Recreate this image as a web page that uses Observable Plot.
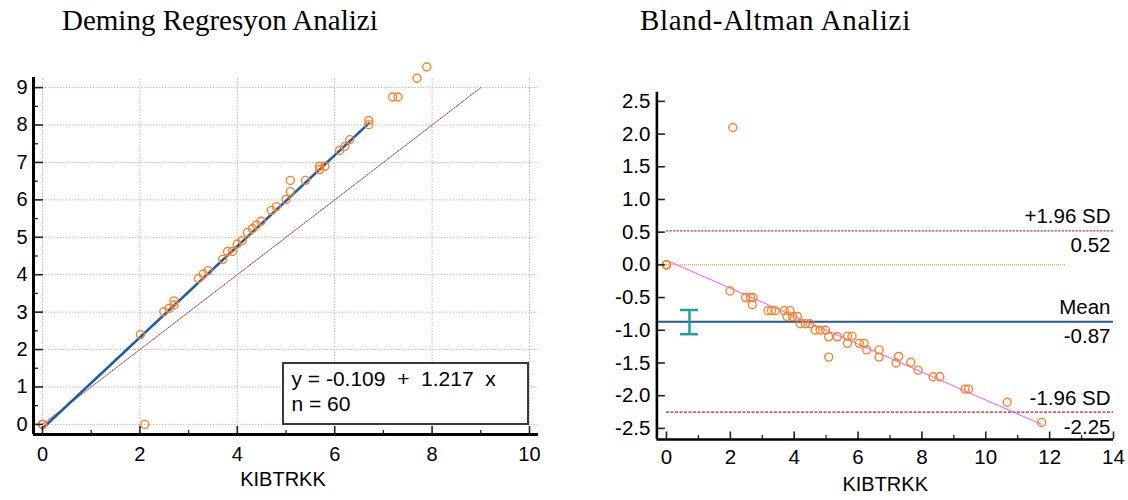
<!DOCTYPE html>
<html><head><meta charset="utf-8">
<script src="https://cdn.jsdelivr.net/npm/d3@7"></script>
<script src="https://cdn.jsdelivr.net/npm/@observablehq/plot@0.6"></script>
<style>
body{margin:0;background:#fff;}
#wrap{position:relative;width:1128px;height:500px;overflow:hidden;font-family:"Liberation Sans",Arial,sans-serif;color:#000;}
.title{position:absolute;top:0;font-family:"Liberation Serif","Times New Roman",serif;font-size:29px;line-height:40px;white-space:nowrap;}
#left{position:absolute;left:0;top:40px;}
#right{position:absolute;left:564px;top:40px;}
#legend{position:absolute;left:281.5px;top:361.5px;width:247px;height:63px;box-sizing:border-box;border:2px solid #383838;background:#fff;padding:3.5px 0 0 8px;font-size:21px;line-height:24.5px;white-space:pre;}
</style></head><body>
<div id="wrap">
<div class="title" style="left:62px;">Deming Regresyon Analizi</div>
<div class="title" style="left:640px;letter-spacing:0.7px;">Bland-Altman Analizi</div>
<div id="left"></div><div id="right"></div>
<div id="legend"></div>
</div>
<script>
// ---------------- Deming regression data ----------------
const demingX = [0,0,0,2.01,2.10,2.49,2.60,2.70,2.70,3.20,3.30,3.40,3.70,3.80,3.90,4.00,4.10,4.21,4.31,4.39,4.49,4.70,4.80,5.00,5.09,5.09,5.40,5.69,5.69,5.80,6.10,6.21,6.31,6.70,6.70,7.19,7.30,7.69,7.89];
const demingY = [0,0,0,2.40,0,3.01,3.10,3.30,3.19,3.90,4.02,4.11,4.41,4.62,4.62,4.82,4.91,5.13,5.23,5.33,5.43,5.72,5.82,6.01,6.22,6.52,6.52,6.81,6.90,6.90,7.32,7.43,7.61,8.12,8.01,8.75,8.75,9.25,9.55];
const demingIntercept = -0.109;
const demingSlope = 1.217;
const demingN = 60;
const demingLineX = [0, 6.7];
const identityLineX = [0, 9];
const leftXTicks = [0,2,4,6,8,10];
const leftXMinor = [1,3,5,7,9];
const leftYTicks = [0,1,2,3,4,5,6,7,8,9];
const leftYMinor = [0.5,1.5,2.5,3.5,4.5,5.5,6.5,7.5,8.5];
const xAxisLabel = "KIBTRKK";

// ---------------- Bland-Altman data ----------------
const baX = [0,0,0,2.08,1.99,2.48,2.63,2.71,2.69,3.18,3.29,3.40,3.69,3.87,3.77,3.95,4.10,4.19,4.35,4.49,4.66,4.81,4.98,5.08,5.35,5.08,5.67,5.81,5.67,6.04,6.19,6.27,6.66,6.66,7.19,7.27,7.65,7.88,8.35,8.56,9.35,9.46,10.67,11.75];
const baY = [0,0,0,2.10,-0.40,-0.50,-0.50,-0.50,-0.61,-0.70,-0.70,-0.70,-0.70,-0.70,-0.79,-0.79,-0.79,-0.90,-0.90,-0.90,-1.00,-1.00,-1.00,-1.10,-1.10,-1.41,-1.09,-1.09,-1.20,-1.20,-1.20,-1.30,-1.30,-1.41,-1.50,-1.40,-1.49,-1.61,-1.71,-1.71,-1.90,-1.90,-2.10,-2.41];
const baLimitNames = ["+1.96 SD","Mean","-1.96 SD"];
const baLimitValues = [0.52,-0.87,-2.25];
const baLimitText = ["0.52","-0.87","-2.25"];
const baCIx = 0.72, baCILow = -1.06, baCIHigh = -0.69;
const baZeroLineX = [0, 12.5];
const baRegX = [0, 11.75];
const baRegY = [0.07, -2.44];
const rightXTicks = [0,2,4,6,8,10,12,14];
const rightXMinor = [1,3,5,7,9,11,13];
const rightYTicks = [-2.5,-2,-1.5,-1,-0.5,0,0.5,1,1.5,2,2.5];

// ---------------- Left chart ----------------
const LW=564, LH=460, LML=33, LMR=26, LMT=37, LMB=66;
const lxDom=[-0.185,10.185], lyDom=[-0.27,9.27];
const lpx=(LW-LML-LMR)/(lxDom[1]-lxDom[0]);
const lpy=(LH-LMT-LMB)/(lyDom[1]-lyDom[0]);
const orange="#ff7f27";
const gridStyle={stroke:"#bdbdbd",strokeWidth:1,strokeDasharray:"1.5,1.5"};

const leftPlot = Plot.plot({
  width:LW,height:LH,marginLeft:LML,marginRight:LMR,marginTop:LMT,marginBottom:LMB,
  x:{domain:lxDom},y:{domain:lyDom},
  style:{fontFamily:"Liberation Sans, Arial, sans-serif",fontSize:"20px",color:"#000",background:"transparent",overflow:"visible"},
  marks:[
    Plot.ruleX(leftXTicks,{x:d=>d,y1:lyDom[0],y2:lyDom[1],...gridStyle}),
    Plot.ruleY(leftYTicks,{y:d=>d,x1:lxDom[0],x2:lxDom[1],...gridStyle}),
    Plot.line(identityLineX.map(x=>({x,y:x})),{x:"x",y:"y",stroke:"#a52a2a",strokeWidth:1,strokeDasharray:"1,1.2"}),
    Plot.line(demingLineX.map(x=>({x,y:demingIntercept+demingSlope*x})),{x:"x",y:"y",stroke:"#1b5ea6",strokeWidth:2.5}),
    Plot.dot(demingX.map((x,i)=>({x,y:demingY[i]})),{x:"x",y:"y",r:4,stroke:orange,strokeWidth:1.4,fill:"none"}),
    Plot.ruleX(leftXTicks,{x:d=>d,y1:lyDom[0],y2:lyDom[0]+8/lpy,stroke:"#222",strokeWidth:1.6}),
    Plot.ruleX(leftXMinor,{x:d=>d,y1:lyDom[0],y2:lyDom[0]+4/lpy,stroke:"#222",strokeWidth:1.3}),
    Plot.ruleY(leftYTicks,{y:d=>d,x1:lxDom[0],x2:lxDom[0]+10/lpx,stroke:"#222",strokeWidth:1.6}),
    Plot.ruleY(leftYMinor,{y:d=>d,x1:lxDom[0],x2:lxDom[0]+5/lpx,stroke:"#222",strokeWidth:1.3}),
    Plot.ruleX([lxDom[0]],{stroke:"#000",strokeWidth:3}),
    Plot.ruleY([lyDom[0]],{stroke:"#000",strokeWidth:3}),
    Plot.axisX(leftXTicks,{tickSize:0,tickPadding:12,label:null,tickFormat:d=>String(d)}),
    Plot.axisY(leftYTicks,{tickSize:0,tickPadding:6,label:null,tickFormat:d=>String(d)}),
    Plot.text([xAxisLabel],{frameAnchor:"bottom",text:d=>d,dy:51,dx:-3,fontSize:20})
  ]
});
document.getElementById("left").appendChild(leftPlot);
document.getElementById("legend").textContent =
  `y = ${demingIntercept.toFixed(3)}  +  ${demingSlope.toFixed(3)}  x\nn = ${demingN}`;

// ---------------- Right chart ----------------
const RW=564, RH=460, RML=92.4, RMR=15, RMT=51.7, RMB=61;
const rxDom=[-0.3,14], ryDom=[-2.67,2.64];
const rpx=(RW-RML-RMR)/(rxDom[1]-rxDom[0]);
const rpy=(RH-RMT-RMB)/(ryDom[1]-ryDom[0]);
const teal="#1ea0a0";

const rightPlot = Plot.plot({
  width:RW,height:RH,marginLeft:RML,marginRight:RMR,marginTop:RMT,marginBottom:RMB,
  x:{domain:rxDom},y:{domain:ryDom},
  style:{fontFamily:"Liberation Sans, Arial, sans-serif",fontSize:"20.5px",color:"#000",background:"transparent",overflow:"visible"},
  marks:[
    Plot.ruleY([0],{x1:baZeroLineX[0],x2:baZeroLineX[1],stroke:"#f7a86a",strokeWidth:1.5,strokeDasharray:"1,1"}),
    Plot.ruleY([baLimitValues[0]],{x1:0,x2:rxDom[1],stroke:"#b5474f",strokeWidth:1.4,strokeDasharray:"2.5,1"}),
    Plot.ruleY([baLimitValues[2]],{x1:0,x2:rxDom[1],stroke:"#c81818",strokeWidth:1.2,strokeDasharray:"3,1.5"}),
    Plot.ruleY([baLimitValues[1]],{x1:rxDom[0],x2:rxDom[1],stroke:"#1f5a9a",strokeWidth:2.2}),
    Plot.line(baRegX.map((x,i)=>({x,y:baRegY[i]})),{x:"x",y:"y",stroke:"#ff33ff",strokeWidth:1,strokeDasharray:"1,1"}),
    Plot.ruleX([baCIx],{y1:baCILow,y2:baCIHigh,stroke:teal,strokeWidth:2.5}),
    Plot.ruleY([baCILow,baCIHigh],{y:d=>d,x1:baCIx-9/rpx,x2:baCIx+9/rpx,stroke:teal,strokeWidth:2.5}),
    Plot.dot(baX.map((x,i)=>({x,y:baY[i]})),{x:"x",y:"y",r:4,stroke:orange,strokeWidth:1.4,fill:"none"}),
    Plot.text(baLimitNames,{x:rxDom[1],y:(d,i)=>baLimitValues[i],text:d=>d,textAnchor:"end",lineAnchor:"bottom",dx:-3,dy:-7.5,fontSize:20.5}),
    Plot.text(baLimitText,{x:rxDom[1],y:(d,i)=>baLimitValues[i],text:d=>d,textAnchor:"end",lineAnchor:"bottom",dx:-3,dy:21.5,fontSize:20.5}),
    Plot.ruleX(rightXTicks,{x:d=>d,y1:ryDom[0],y2:ryDom[0]+7.5/rpy,stroke:"#222",strokeWidth:1.6}),
    Plot.ruleX(rightXMinor,{x:d=>d,y1:ryDom[0],y2:ryDom[0]+4/rpy,stroke:"#222",strokeWidth:1.3}),
    Plot.ruleY(rightYTicks,{y:d=>d,x1:rxDom[0],x2:rxDom[0]+8.5/rpx,stroke:"#222",strokeWidth:1.6}),
    Plot.ruleX([rxDom[0]],{stroke:"#000",strokeWidth:2.6}),
    Plot.ruleY([ryDom[0]],{stroke:"#000",strokeWidth:2.6}),
    Plot.axisX(rightXTicks,{tickSize:0,tickPadding:10,label:null,tickFormat:d=>String(d)}),
    Plot.axisY(rightYTicks,{tickSize:0,tickPadding:6.5,label:null,tickFormat:d=>d.toFixed(1)}),
    Plot.text([xAxisLabel],{frameAnchor:"bottom",text:d=>d,dy:51,fontSize:20})
  ]
});
document.getElementById("right").appendChild(rightPlot);
</script>
</body></html>
